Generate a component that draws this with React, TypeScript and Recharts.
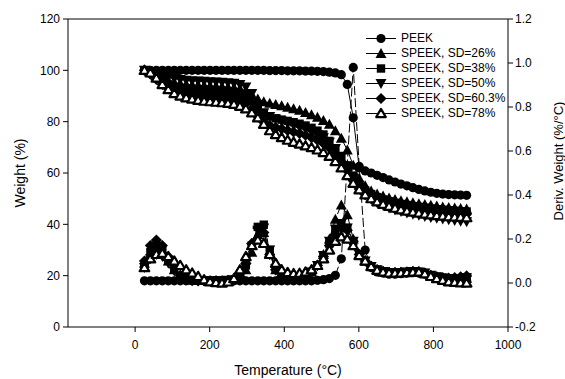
import React from 'react';
import { LineChart, Line, XAxis, YAxis, Legend, ReferenceLine } from 'recharts';

const FONT = '"Liberation Sans", Arial, sans-serif';

const temperatures = [
  25, 41, 57, 73, 89, 105, 121, 137, 153, 169, 185,
  201, 217, 233, 249, 265, 281, 297, 313, 329, 345, 361,
  377, 393, 409, 425, 441, 457, 473, 489, 505, 521, 537,
  553, 569, 585, 601, 617, 633, 649, 665, 681, 697, 713,
  729, 745, 761, 777, 793, 809, 825, 841, 857, 873, 889,
];

const seriesNames = ['PEEK', 'SPEEK, SD=26%', 'SPEEK, SD=38%', 'SPEEK, SD=50%', 'SPEEK, SD=60.3%', 'SPEEK, SD=78%'];
const xTicks = [0, 200, 400, 600, 800, 1000];
const weightTicks = [0, 20, 40, 60, 80, 100, 120];
const derivTicks = [-0.2, 0, 0.2, 0.4, 0.6, 0.8, 1.0, 1.2];

// Weight (%)
const peekWeight = [
  100, 100, 100, 100, 100, 100, 100, 100, 100, 100, 100,
  100, 100, 100, 100, 100, 100, 100, 100, 100, 100, 99.9,
  99.9, 99.9, 99.8, 99.8, 99.8, 99.7, 99.7, 99.6, 99.5, 99.3, 99,
  98.3, 94.5, 81.5, 62, 60.8, 60, 59.1, 58.2, 57.3, 56.5, 55.7,
  55, 54.3, 53.6, 53, 52.5, 52.1, 51.8, 51.6, 51.5, 51.4, 51.3,
];
const sd26Weight = [
  100, 99.3, 98.2, 97, 96, 95.3, 94.8, 94.5, 94.3, 94.2, 94,
  93.9, 93.8, 93.6, 93.4, 93.2, 92.8, 92, 90.5, 88.8, 87.8, 87.2,
  86.7, 86.2, 85.6, 85, 84.4, 83.6, 82.7, 81.7, 80.5, 79, 76.5,
  73.5, 69, 63, 58, 55, 53, 51.8, 51, 50.3, 49.7, 49.2,
  48.8, 48.4, 48, 47.7, 47.4, 47.1, 46.8, 46.6, 46.4, 46.2, 46,
];
const sd38Weight = [
  100, 99, 97.5, 95.8, 94.5, 93.5, 92.9, 92.5, 92.3, 92.1, 92,
  91.9, 91.8, 91.6, 91.4, 91.2, 90.8, 90, 88, 85, 83, 82,
  81.3, 80.8, 80.3, 79.8, 79.2, 78.5, 77.6, 76.5, 75, 72.5, 69.5,
  66.5, 63, 59, 55.5, 53.2, 51.8, 50.6, 49.7, 49, 48.4, 47.9,
  47.5, 47.1, 46.8, 46.5, 46.2, 45.9, 45.7, 45.5, 45.3, 45.1, 45,
];
const sd50Weight = [
  100, 99.5, 98.8, 98, 97.3, 96.8, 96.4, 96.1, 95.9, 95.8, 95.7,
  95.6, 95.5, 95.4, 95.2, 95, 94.5, 93.5, 91, 86.5, 83.5, 82,
  81, 80.2, 79.4, 78.6, 77.8, 77, 76, 75, 73.7, 72, 69.5,
  66.5, 62.5, 58, 54, 51.5, 49.8, 48.4, 47.3, 46.4, 45.6, 45,
  44.4, 43.9, 43.5, 43.1, 42.7, 42.4, 42.1, 41.8, 41.5, 41.2, 41,
];
const sd603Weight = [
  100, 98.5, 96.5, 94.5, 92.8, 91.6, 90.8, 90.3, 90, 89.8, 89.6,
  89.5, 89.4, 89.2, 89, 88.7, 88.2, 87.2, 85, 82, 79.8, 78.5,
  77.8, 77.2, 76.6, 76, 75.4, 74.7, 73.8, 72.8, 71.5, 69.8, 67.5,
  64.5, 61, 57, 53.8, 51.6, 50.2, 49.1, 48.2, 47.5, 46.9, 46.4,
  46, 45.6, 45.3, 45, 44.8, 44.6, 44.4, 44.3, 44.2, 44.1, 44,
];
const sd78Weight = [
  100, 99, 97, 94.5, 92.5, 91, 90, 89.3, 88.8, 88.3, 88,
  87.8, 87.6, 87.4, 87.2, 86.8, 86, 85, 83.5, 81.5, 79, 76.5,
  75, 73.8, 72.8, 72, 71.3, 70.6, 69.9, 69, 68, 66.5, 64.5,
  62, 59, 56, 53.5, 51.5, 50, 48.8, 47.8, 47, 46.3, 45.7,
  45.2, 44.8, 44.4, 44, 43.7, 43.4, 43.2, 43, 42.9, 42.8, 42.6,
];

// Deriv. Weight (%/°C)
const peekDeriv = [
  0.01, 0.01, 0.01, 0.01, 0.01, 0.01, 0.01, 0.01, 0.01, 0.01, 0.01,
  0.01, 0.01, 0.01, 0.01, 0.01, 0.01, 0.01, 0.01, 0.01, 0.01, 0.01,
  0.01, 0.01, 0.01, 0.01, 0.01, 0.01, 0.01, 0.012, 0.015, 0.02, 0.035,
  0.11, null, 0.98, 0.53, 0.15, 0.07, 0.05, 0.045, 0.04, 0.04, 0.042,
  0.045, 0.047, 0.045, 0.04, 0.032, 0.025, 0.018, 0.014, 0.012, 0.011, 0.01,
];
const sd26Deriv = [
  0.09, 0.13, 0.15, 0.14, 0.1, 0.06, 0.035, 0.02, 0.015, 0.012, 0.011,
  0.01, 0.01, 0.01, 0.012, 0.015, 0.025, 0.06, 0.14, 0.22, 0.23, 0.14,
  0.06, 0.03, 0.02, 0.02, 0.025, 0.035, 0.05, 0.08, 0.13, 0.2, 0.29,
  0.355, 0.31, 0.2, 0.13, 0.1, 0.075, 0.06, 0.052, 0.048, 0.047, 0.048,
  0.05, 0.052, 0.05, 0.045, 0.035, 0.028, 0.022, 0.018, 0.018, 0.02, 0.022,
];
const sd38Deriv = [
  0.08, 0.14, 0.17, 0.15, 0.1, 0.06, 0.03, 0.018, 0.012, 0.01, 0.01,
  0.01, 0.01, 0.01, 0.012, 0.015, 0.03, 0.08, 0.17, 0.255, 0.265, 0.15,
  0.06, 0.03, 0.02, 0.02, 0.025, 0.035, 0.05, 0.08, 0.12, 0.18, 0.24,
  0.265, 0.25, 0.19, 0.13, 0.1, 0.075, 0.06, 0.052, 0.048, 0.047, 0.048,
  0.05, 0.052, 0.05, 0.045, 0.035, 0.028, 0.024, 0.02, 0.02, 0.022, 0.025,
];
const sd50Deriv = [
  0.07, 0.11, 0.13, 0.12, 0.09, 0.055, 0.03, 0.018, 0.012, 0.01, 0.01,
  0.01, 0.01, 0.01, 0.012, 0.015, 0.028, 0.07, 0.16, 0.24, 0.25, 0.15,
  0.065, 0.032, 0.022, 0.02, 0.025, 0.035, 0.05, 0.08, 0.125, 0.19, 0.245,
  0.27, 0.25, 0.19, 0.13, 0.1, 0.075, 0.06, 0.052, 0.048, 0.047, 0.048,
  0.05, 0.052, 0.05, 0.045, 0.035, 0.028, 0.023, 0.02, 0.02, 0.021, 0.024,
];
const sd603Deriv = [
  0.1, 0.17, 0.195, 0.17, 0.12, 0.07, 0.035, 0.02, 0.012, 0.01, 0.01,
  0.01, 0.01, 0.01, 0.012, 0.015, 0.03, 0.09, 0.18, 0.25, 0.23, 0.13,
  0.06, 0.03, 0.02, 0.02, 0.025, 0.035, 0.05, 0.08, 0.12, 0.17, 0.22,
  0.25, 0.24, 0.19, 0.13, 0.1, 0.075, 0.06, 0.052, 0.048, 0.047, 0.048,
  0.05, 0.052, 0.05, 0.045, 0.035, 0.028, 0.024, 0.022, 0.024, 0.028, 0.032,
];
const sd78Deriv = [
  0.07, 0.11, 0.13, 0.135, 0.12, 0.1, 0.08, 0.06, 0.045, 0.03, 0.015,
  0.006, 0.002, 0.0, 0.005, 0.02, 0.06, 0.12, 0.17, 0.195, 0.18, 0.13,
  0.09, 0.06, 0.048, 0.043, 0.044, 0.05, 0.06, 0.08, 0.11, 0.15, 0.19,
  0.21, 0.2, 0.17, 0.125, 0.1, 0.075, 0.058, 0.05, 0.046, 0.045, 0.046,
  0.048, 0.05, 0.05, 0.042, 0.03, 0.02, 0.012, 0.006, 0.003, 0.001, 0.0,
];

const weightSeries = [peekWeight, sd26Weight, sd38Weight, sd50Weight, sd603Weight, sd78Weight];
const derivSeries = [peekDeriv, sd26Deriv, sd38Deriv, sd50Deriv, sd603Deriv, sd78Deriv];
const shapes = ['circle', 'triUp', 'square', 'triDown', 'diamond', 'triOpen'];

const data = temperatures.map((t, i) => {
  const row: Record<string, number | null> = { t };
  weightSeries.forEach((s, k) => { row['w' + k] = s[i]; });
  derivSeries.forEach((s, k) => { row['d' + k] = s[i]; });
  return row;
});

function markerEl(shape: string, cx: number, cy: number, key?: string | number) {
  switch (shape) {
    case 'circle':
      return <circle key={key} cx={cx} cy={cy} r={4.6} fill="#000" />;
    case 'triUp':
      return <polygon key={key} points={`${cx},${cy - 5.5} ${cx + 5.5},${cy + 4.5} ${cx - 5.5},${cy + 4.5}`} fill="#000" />;
    case 'square':
      return <rect key={key} x={cx - 4.2} y={cy - 4.2} width={8.4} height={8.4} fill="#000" />;
    case 'triDown':
      return <polygon key={key} points={`${cx},${cy + 5.5} ${cx + 5.5},${cy - 4.5} ${cx - 5.5},${cy - 4.5}`} fill="#000" />;
    case 'diamond':
      return <polygon key={key} points={`${cx},${cy - 5.6} ${cx + 5.6},${cy} ${cx},${cy + 5.6} ${cx - 5.6},${cy}`} fill="#000" />;
    default:
      return (
        <polygon key={key} points={`${cx},${cy - 4.6} ${cx + 4.8},${cy + 3.6} ${cx - 4.8},${cy + 3.6}`}
          fill="#fff" stroke="#000" strokeWidth={2.2} strokeLinejoin="round" />
      );
  }
}

const dotRenderer = (shape: string) => (p: any) => {
  const key = `${shape}-${p.index}`;
  if (p.cx == null || p.cy == null || p.value == null || Number.isNaN(p.cy)) return <g key={key} />;
  return markerEl(shape, p.cx, p.cy, key);
};

const renderLegend = () => (
  <div style={{ fontFamily: FONT, fontSize: 12, color: '#000' }}>
    {seriesNames.map((name, k) => (
      <div key={name} style={{ display: 'flex', alignItems: 'center', height: 15, whiteSpace: 'nowrap' }}>
        <svg width={35} height={15} style={{ display: 'block' }}>
          <line x1={0} x2={30} y1={7.5} y2={7.5} stroke="#000" strokeWidth={1} />
          {markerEl(shapes[k], 15, 7.5)}
        </svg>
        <span style={{ lineHeight: '15px' }}>{name}</span>
      </div>
    ))}
  </div>
);

const xLabel = (props: any) => {
  const vb = props.viewBox;
  return (
    <text x={vb.x + vb.width / 2} y={vb.y + 47.5} textAnchor="middle" fontSize={14} fontFamily={FONT} fill="#000">
      Temperature (°C)
    </text>
  );
};
const yLeftLabel = (props: any) => {
  const vb = props.viewBox;
  const cx = vb.x + 20;
  const cy = vb.y + vb.height / 2;
  return (
    <text x={cx} y={cy} transform={`rotate(-90 ${cx} ${cy})`} textAnchor="middle" dominantBaseline="central"
      fontSize={14} fontFamily={FONT} fill="#000">
      Weight (%)
    </text>
  );
};
const yRightLabel = (props: any) => {
  const vb = props.viewBox;
  const cx = vb.x + 50;
  const cy = vb.y + vb.height / 2 - 12;
  return (
    <text x={cx} y={cy} transform={`rotate(-90 ${cx} ${cy})`} textAnchor="middle" dominantBaseline="central"
      fontSize={13} fontFamily={FONT} fill="#000">
      Deriv. Weight (%/°C)
    </text>
  );
};

const tickStyle = { fill: '#000', fontSize: 12, fontFamily: FONT };

export default function App() {
  return (
    <div style={{ position: 'absolute', left: 0, top: 0, width: 565, height: 379, background: '#fff', fontFamily: FONT }}>
      <LineChart width={565} height={379} data={data} margin={{ top: 19, right: 0, bottom: 0, left: 0 }}>
        <XAxis dataKey="t" type="number" domain={[-180, 1000]} ticks={xTicks} allowDataOverflow
          height={52} tickSize={5} tickMargin={8} axisLine={{ stroke: '#000' }} tickLine={{ stroke: '#000' }}
          tick={tickStyle} label={{ value: 'Temperature (°C)', content: xLabel }} />
        <YAxis yAxisId="w" domain={[0, 120]} ticks={weightTicks} width={68} tickSize={5} tickMargin={3}
          axisLine={{ stroke: '#000' }} tickLine={{ stroke: '#000' }} tick={tickStyle}
          label={{ value: 'Weight (%)', content: yLeftLabel }} />
        <YAxis yAxisId="d" orientation="right" domain={[-0.2, 1.2]} ticks={derivTicks} width={57} tickSize={5}
          tickMargin={2} axisLine={{ stroke: '#000' }} tickLine={{ stroke: '#000' }} tick={tickStyle}
          tickFormatter={(v: number) => v.toFixed(1)} label={{ value: 'Deriv. Weight (%/°C)', content: yRightLabel }} />
        <ReferenceLine yAxisId="w" y={120} stroke="#000" strokeWidth={1} />
        {weightSeries.map((_, k) => (
          <Line key={'w' + k} yAxisId="w" type="linear" dataKey={'w' + k} stroke="#000" strokeWidth={1}
            dot={dotRenderer(shapes[k])} activeDot={false} isAnimationActive={false} legendType="none" />
        ))}
        {derivSeries.map((_, k) => (
          <Line key={'d' + k} yAxisId="d" type="linear" dataKey={'d' + k} stroke="#000" strokeWidth={1}
            strokeDasharray="9 3" connectNulls dot={dotRenderer(shapes[k])} activeDot={false}
            isAnimationActive={false} legendType="none" />
        ))}
        <Legend layout="vertical" align="center" verticalAlign="middle" content={renderLegend}
          wrapperStyle={{ position: 'absolute', left: 366, top: 31, width: 'auto', height: 'auto' }} />
      </LineChart>
    </div>
  );
}
